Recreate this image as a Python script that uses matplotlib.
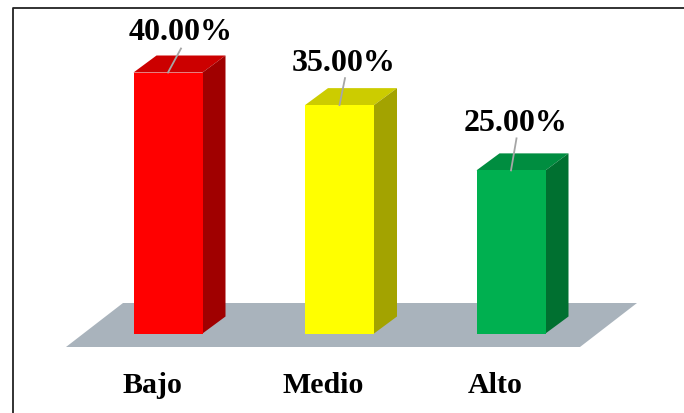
import numpy as np
import matplotlib
matplotlib.use("Agg")
import matplotlib.pyplot as plt
from matplotlib.patches import Polygon

plt.rcParams["font.family"] = ["Liberation Serif", "DejaVu Serif"]

categories = ["Bajo", "Medio", "Alto"]
values = [40.0, 35.0, 25.0]
labels = ["40.00%", "35.00%", "25.00%"]
front = ["#ff0000", "#ffff00", "#00b050"]
top = ["#cc0000", "#cccc00", "#008d40"]
side = ["#a00000", "#a3a300", "#007030"]

W, H = 684, 414
PX_X = 171.5      # px per category
PX_Y = 261 / 40   # px per percent
X0, Y0 = 168, 334.5  # pixel position of category 0, value 0
BW = 69 / PX_X
DX, DY = 23 / PX_X, 17 / PX_Y

# label placement relative to the top of each bar, in px
label_dx = [12.5, 4, 4.5]
label_dy = [41, 43, 48]
leader_dx = [13, 5.5, 5.5]
leader_dy = [24, 27, 32]

fig = plt.figure(figsize=(W / 100, H / 100), dpi=100)
ax = fig.add_axes([0, 0, 1, 1])
ax.set_xlim(-X0 / PX_X, (W - X0) / PX_X)
ax.set_ylim(-(H - Y0) / PX_Y, Y0 / PX_Y)
ax.axis("off")


def px(x, y):
    return ((x - X0) / PX_X, (Y0 - y) / PX_Y)


# frame: only left and top edges show
ax.plot(*zip(px(12.5, 414), px(12.5, 8.5), px(684, 8.5)),
        color="#222222", lw=1.3, solid_capstyle="butt", zorder=1)

# floor
ax.add_patch(Polygon([px(66, 348), px(580, 348), px(637, 304), px(123, 304)],
                     facecolor="#a9b3bc", edgecolor="none", zorder=2))

for i, v in enumerate(values):
    l, r = i - BW / 2, i + BW / 2
    ax.add_patch(Polygon([(l, 0), (r, 0), (r, v), (l, v)], fc=front[i], ec="none", zorder=4))
    ax.add_patch(Polygon([(l, v), (r, v), (r + DX, v + DY), (l + DX, v + DY)], fc=top[i], ec="none", zorder=3))
    ax.add_patch(Polygon([(r, 0), (r + DX, DY), (r + DX, v + DY), (r, v)], fc=side[i], ec="none", zorder=3))
    # leader line, then value label above the bar
    ax.plot([i, i + leader_dx[i] / PX_X], [v, v + leader_dy[i] / PX_Y], color="#a6a6a6", lw=1.3, zorder=5)
    ax.text(i + label_dx[i] / PX_X, v + label_dy[i] / PX_Y, labels[i], ha="center", va="center",
            fontsize=23, fontweight="bold", color="black", zorder=6)
    ax.text(i - 16 / PX_X, -51 / PX_Y, categories[i], ha="center", va="center",
            fontsize=21.5, fontweight="bold", color="black", zorder=6)

fig.savefig("out.png", dpi=100)
